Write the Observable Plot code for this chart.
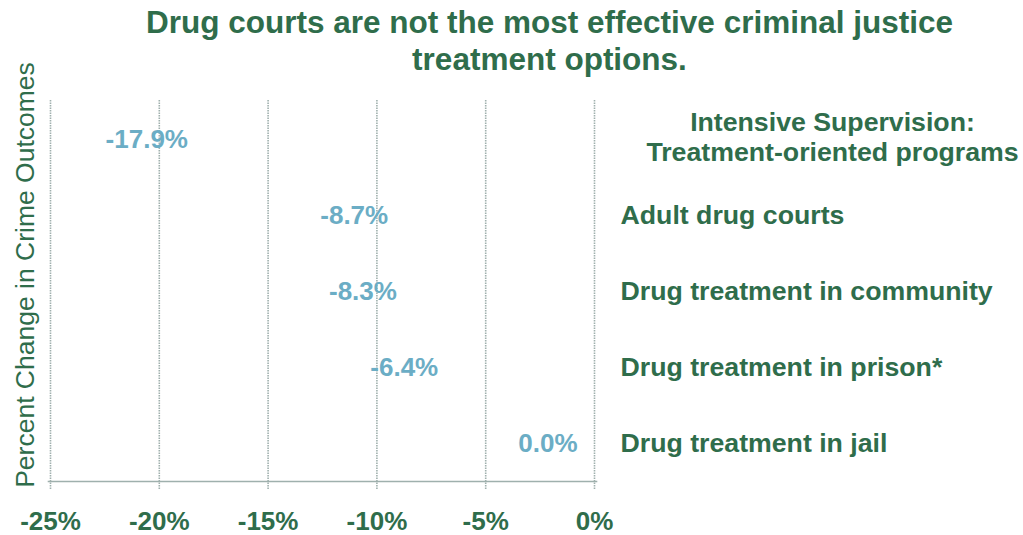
<!DOCTYPE html>
<html>
<head>
<meta charset="utf-8">
<script src="https://cdn.jsdelivr.net/npm/d3@7"></script>
<script src="https://cdn.jsdelivr.net/npm/@observablehq/plot@0.6"></script>
<style>
  body { margin: 0; background: #fff; font-family: "Liberation Sans", Arial, sans-serif; }
  #wrap { position: relative; width: 1023px; height: 535px; overflow: hidden; }
  #title { height: 82px; box-sizing: border-box; padding-top: 4px; padding-left: 76px; text-align: center;
    color: #2f6d4b; font-weight: bold; font-size: 31.5px; line-height: 37px; }
  #ylabel { position: absolute; left: 25px; top: 275px; transform: translate(-50%, -50%) rotate(-90deg);
    white-space: nowrap; color: #2f6d4b; font-size: 26.5px; }
</style>
</head>
<body>
<div id="wrap">
  <div id="title">Drug courts are not the most effective criminal justice<br>treatment options.</div>
  <div id="ylabel">Percent Change in Crime Outcomes</div>
  <div id="chart"></div>
</div>
<script>
const categories = [
  "Intensive Supervision:\nTreatment-oriented programs",
  "Adult drug courts",
  "Drug treatment in community",
  "Drug treatment in prison*",
  "Drug treatment in jail"
];
const values = [-17.9, -8.7, -8.3, -6.4, 0.0];
const tickValues = [-25, -20, -15, -10, -5, 0];

const green = "#2f6d4b";
const blue = "#6badc5";
const gridColor = "#9fb0ad";

const data = categories.map((c, i) => ({category: c, value: values[i], first: i === 0}));

const chart = Plot.plot({
  width: 1023,
  height: 453,
  marginTop: 18,
  marginBottom: 54,
  marginLeft: 50,
  marginRight: 429,
  style: {fontFamily: "Liberation Sans, Arial, sans-serif", background: "white", overflow: "visible"},
  x: {domain: [-25, 0], axis: null, label: null},
  y: {type: "band", domain: categories, axis: null, padding: 0},
  marks: [
    Plot.ruleX(tickValues, {stroke: gridColor, strokeWidth: 1.6, strokeDasharray: "1.5,1", insetBottom: -9}),
    Plot.frame({anchor: "bottom", stroke: gridColor, strokeWidth: 1.6, strokeDasharray: "1.5,1", insetLeft: -2, insetRight: -2}),
    Plot.axisX(tickValues, {tickSize: 0, tickPadding: 30, label: null, tickFormat: d => d + "%", fontSize: 26, fontWeight: "bold", fill: green}),
    Plot.text(data, {x: "value", y: "category", text: d => d.value.toFixed(1) + "%", textAnchor: "end", dx: -17,
      fill: blue, fontSize: 26, fontWeight: "bold"}),
    Plot.text(data.filter(d => !d.first), {x: () => 0, y: "category", text: "category", textAnchor: "start", dx: 26,
      fill: green, fontSize: 26.7, fontWeight: "bold"}),
    Plot.text(data.filter(d => d.first), {x: () => 0, y: "category", text: "category", textAnchor: "middle", dx: 238, dy: -3,
      lineHeight: 1.1, fill: green, fontSize: 26.7, fontWeight: "bold"})
  ]
});
document.getElementById("chart").appendChild(chart);
</script>
</body>
</html>
